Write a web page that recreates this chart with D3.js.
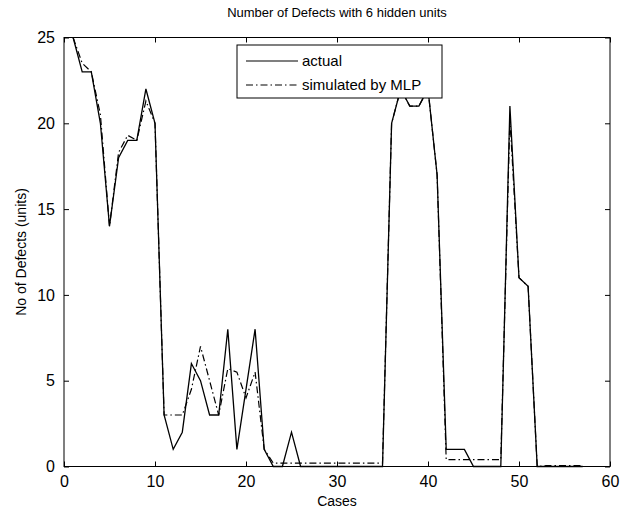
<!DOCTYPE html>
<html>
<head>
<meta charset="utf-8">
<script src="https://cdn.jsdelivr.net/npm/d3@7"></script>
<style>
  body { margin: 0; background: #fff; }
  svg text { font-family: Arial, "Liberation Sans", sans-serif; fill: #000; }
</style>
</head>
<body>
<div id="chart"></div>
<script>
// cases 1..57
var cases = d3.range(1, 58);
var actual = [25, 23, 23, 20, 14, 18, 19, 19, 22, 20,
              3, 1, 2, 6, 5, 3, 3, 8, 1, 4.5,
              8, 1, 0, 0, 2, 0, 0, 0, 0, 0,
              0, 0, 0, 0, 0, 20, 22, 21, 21, 22,
              17, 1, 1, 1, 0, 0, 0, 0, 21, 11,
              10.5, 0, 0, 0, 0, 0, 0];
var simulated = [25, 23.5, 23, 20.5, 14, 18.3, 19.3, 19, 21.3, 20,
                 3, 3, 3, 4.5, 7, 5, 3, 5.7, 5.5, 4,
                 5.5, 1, 0.2, 0.2, 0.2, 0.2, 0.2, 0.2, 0.2, 0.2,
                 0.2, 0.2, 0.2, 0.2, 0.2, 20, 22, 21, 21, 22,
                 17, 0.4, 0.4, 0.4, 0.4, 0.4, 0.4, 0.4, 20.3, 11,
                 10.5, 0, 0.05, 0.05, 0.05, 0.05, 0.05];
var xTicks = [0, 10, 20, 30, 40, 50, 60];
var yTicks = [0, 5, 10, 15, 20, 25];
var legendLabels = ["actual", "simulated by MLP"];

var width = 633, height = 511;
var margin = {left: 64, right: 23, top: 37.5, bottom: 44.5};
var pw = width - margin.left - margin.right;
var ph = height - margin.top - margin.bottom;

var svg = d3.select("#chart").append("svg")
    .attr("width", width)
    .attr("height", height);

var x = d3.scaleLinear().domain([0, 60]).range([0, pw]);
var y = d3.scaleLinear().domain([0, 25]).range([ph, 0]);

var g = svg.append("g")
    .attr("transform", "translate(" + margin.left + "," + margin.top + ")");

// box
g.append("rect")
    .attr("width", pw).attr("height", ph)
    .attr("fill", "none").attr("stroke", "#000").attr("stroke-width", 1);

// axes, ticks pointing inwards like matlab
var fmt = d3.format("d");
var axB = g.append("g").attr("transform", "translate(0," + ph + ")")
    .call(d3.axisBottom(x).tickValues(xTicks).tickSizeInner(-5).tickSizeOuter(0).tickPadding(9).tickFormat(fmt));
var axT = g.append("g")
    .call(d3.axisTop(x).tickValues(xTicks).tickSizeInner(-5).tickSizeOuter(0).tickFormat(""));
var axL = g.append("g")
    .call(d3.axisLeft(y).tickValues(yTicks).tickSizeInner(-5).tickSizeOuter(0).tickPadding(9).tickFormat(fmt));
var axR = g.append("g").attr("transform", "translate(" + pw + ",0)")
    .call(d3.axisRight(y).tickValues(yTicks).tickSizeInner(-5).tickSizeOuter(0).tickFormat(""));

[axB, axT, axL, axR].forEach(function (a) {
    a.select(".domain").remove();
    a.selectAll("line").attr("stroke", "#000");
    a.selectAll("text").style("font-size", "16px").attr("font-family", null);
});

var line = d3.line()
    .x(function (d) { return x(d[0]); })
    .y(function (d) { return y(d[1]); });

g.append("path")
    .datum(cases.map(function (c, i) { return [c, simulated[i]]; }))
    .attr("d", line)
    .attr("fill", "none")
    .attr("stroke", "#000")
    .attr("stroke-width", 1.2)
    .attr("stroke-dasharray", "7,3,1.5,3");

g.append("path")
    .datum(cases.map(function (c, i) { return [c, actual[i]]; }))
    .attr("d", line)
    .attr("fill", "none")
    .attr("stroke", "#000")
    .attr("stroke-width", 1.3);

// legend
var lg = svg.append("g").attr("transform", "translate(237,45)");
lg.append("rect")
    .attr("width", 205).attr("height", 53)
    .attr("fill", "#fff").attr("stroke", "#000").attr("stroke-width", 1);

var rows = lg.selectAll("g.row")
    .data(legendLabels)
    .enter().append("g")
    .attr("class", "row")
    .attr("transform", function (d, i) { return "translate(0," + (16 + i * 24) + ")"; });

rows.append("line")
    .attr("x1", 9).attr("x2", 61)
    .attr("stroke", "#000").attr("stroke-width", 1.2)
    .attr("stroke-dasharray", function (d, i) { return i === 1 ? "7,3,1.5,3" : null; });

rows.append("text")
    .attr("x", 65).attr("dy", "0.35em")
    .style("font-size", "15px")
    .text(function (d) { return d; });

// title and labels
svg.append("text")
    .attr("x", margin.left + pw / 2).attr("y", 17)
    .attr("text-anchor", "middle")
    .style("font-size", "13px")
    .text("Number of Defects with 6 hidden units");

svg.append("text")
    .attr("x", margin.left + pw / 2).attr("y", 506)
    .attr("text-anchor", "middle")
    .style("font-size", "14px")
    .text("Cases");

svg.append("text")
    .attr("transform", "translate(26," + (margin.top + ph / 2) + ") rotate(-90)")
    .attr("text-anchor", "middle")
    .style("font-size", "14px")
    .text("No of Defects (units)");
</script>
</body>
</html>
